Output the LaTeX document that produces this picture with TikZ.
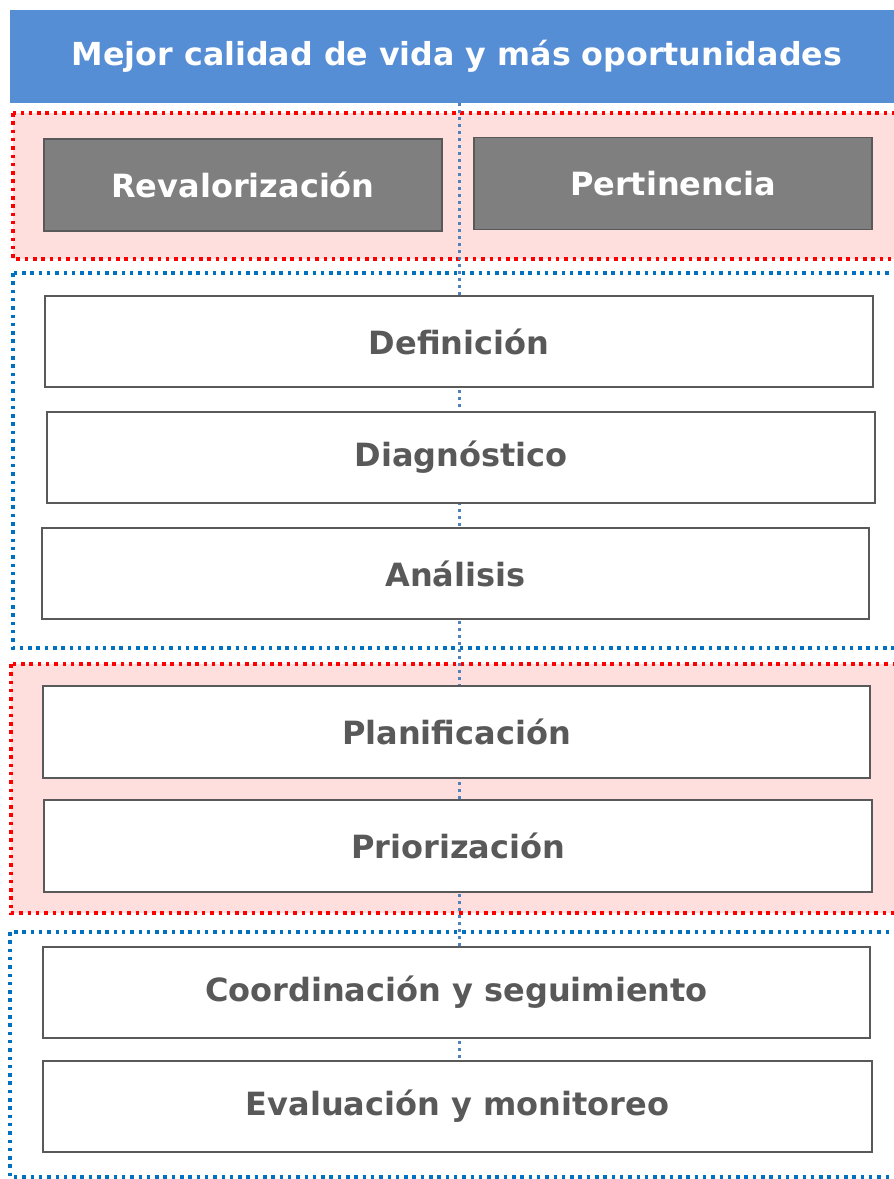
\documentclass[tikz,border=0pt]{standalone}
\usepackage{fontspec}
\setmainfont{DejaVu Sans}
\usetikzlibrary{positioning,backgrounds}
\definecolor{titleblue}{RGB}{85,142,213}
\definecolor{boxgray}{RGB}{127,127,127}
\definecolor{edgegray}{RGB}{89,89,89}
\definecolor{rosefill}{RGB}{255,222,222}
\definecolor{dotred}{RGB}{255,0,0}
\definecolor{dotblue}{RGB}{0,112,192}
\definecolor{spineblue}{RGB}{79,129,189}
\begin{document}
\begin{tikzpicture}[x=1pt, y=-1pt, node distance={25pt},
  stage/.style = {draw=edgegray, line width=1.5pt, fill=white, inner sep=0pt, outer sep=0pt,
    minimum width=828pt, minimum height=91pt, text=edgegray,
    font=\fontsize{32}{38}\selectfont\bfseries},
  pillar/.style = {stage, fill=boxgray, text=white, minimum width=398pt, minimum height=92pt},
  headbox/.style = {fill=titleblue, inner sep=0pt, outer sep=0pt, minimum width=894pt, minimum height=93pt,
    text=white, font=\fontsize{31.7}{38}\selectfont\bfseries},
  redzone/.style = {draw=dotred, fill=rosefill, line width=3.5pt, dash pattern=on 3.5pt off 4.8pt},
  bluezone/.style = {draw=dotblue, line width=3.5pt, dash pattern=on 3.5pt off 4.8pt},
  spine/.style = {draw=spineblue, line width=3pt, dash pattern=on 3pt off 4pt}]
  \clip (0,0) rectangle (894,1179);
  \useasboundingbox (0,0) rectangle (894,1179);

  \node[headbox] (title) at (457,56.5) {Mejor calidad de vida y más oportunidades};

  \node[pillar] (reval) at (243,185) {Revalorización};
  \node[pillar] (pert) at (673,183.5) {Pertinencia};

  \node[stage] (defi) at (459,341.5) {Definición};
  \node[stage] (diag) [below=of defi, xshift=2pt] {Diagnóstico};
  \node[stage] (anal) [below=of diag, xshift=-5.5pt, minimum width=827pt] {Análisis};

  \node[stage] (plan) [below=67pt of anal, xshift=1pt, minimum height=92pt, minimum width=827pt] {Planificación};
  \node[stage] (prio) [below=22pt of plan, xshift=1.5pt, minimum height=92pt] {Priorización};

  \node[stage] (coord) [below=55pt of prio, xshift=-1.5pt, minimum width=827pt] {Coordinación y seguimiento};
  \node[stage] (eval) [below=23pt of coord, xshift=1pt, minimum width=829pt] {Evaluación y monitoreo};

  \begin{scope}[on background layer]
    % zonas punteadas
    \draw[redzone] (13,113) rectangle (910,259);
    \draw[bluezone] (13,273) rectangle (910,648);
    \draw[redzone] (11,664) rectangle (910,913);
    \draw[bluezone] (10,932) rectangle (910,1177);

    \draw[spine] (title.south -| 459,0) -- (459,1100);
  \end{scope}
\end{tikzpicture}
\end{document}
